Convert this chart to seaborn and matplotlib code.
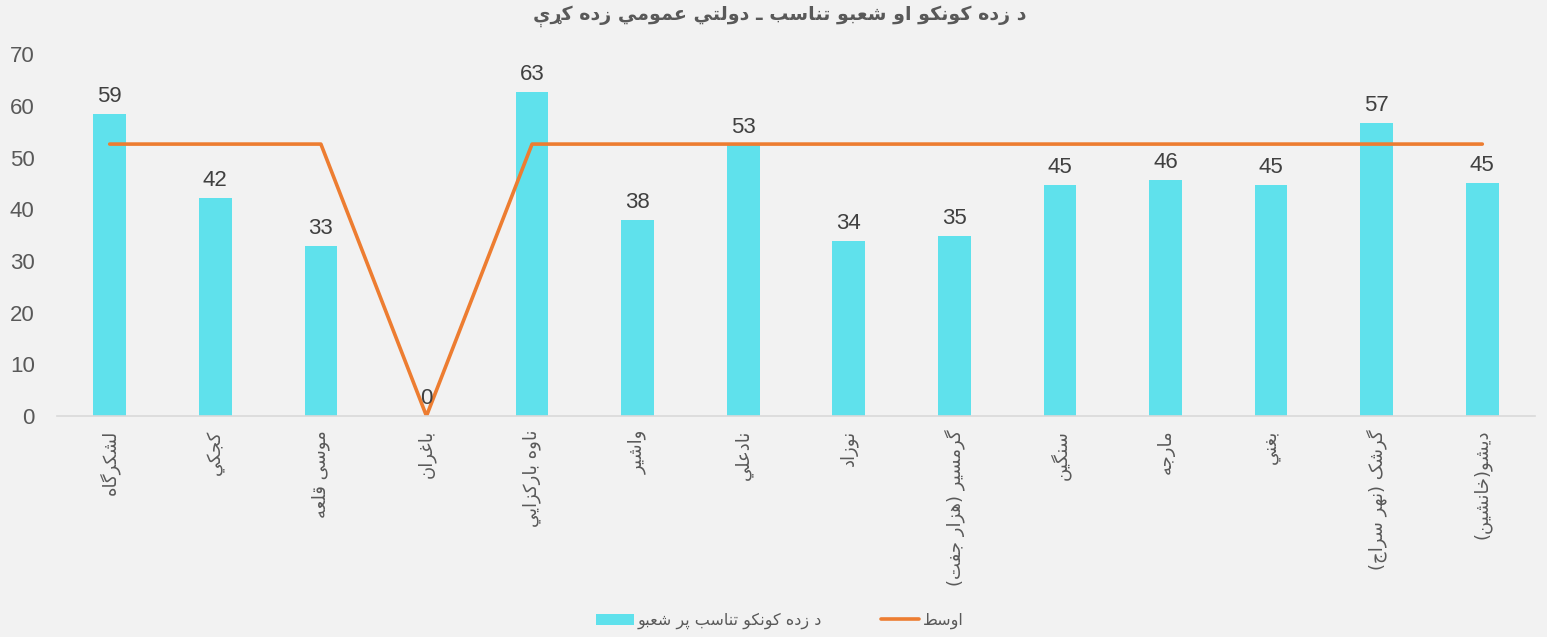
import numpy as np
import matplotlib
matplotlib.use("Agg")
import matplotlib.pyplot as plt
import seaborn as sns

# Chart data
title = "د زده کونکو او شعبو تناسب ـ دولتي عمومي زده کړې"
districts = [
    "لشکرگاه", "کجکي", "موسی قلعه", "باغران", "ناوه بارکزایي", "واشیر", "نادعلي",
    "نوزاد", "گرمسیر (هزار جفت)", "سنگین", "مارجه", "بغني", "گرشک (نهر سراج)", "دیشو(خانشین)",
]
ratio = [58.5, 42.1, 32.9, 0, 62.6, 37.9, 52.5, 33.9, 34.8, 44.7, 45.7, 44.6, 56.7, 45.0]
average = [52.6, 52.6, 52.6, 0, 52.6, 52.6, 52.6, 52.6, 52.6, 52.6, 52.6, 52.6, 52.6, 52.6]
bar_name = "د زده کونکو تناسب پر شعبو"
line_name = "اوسط"

# matplotlib has no Arabic shaping, so pick the contextual glyphs by hand
# (isolated, final, initial, medial); right-joining letters have no initial/medial.
FORMS = {
    "ا": ("\uFE8D", "\uFE8E", None, None),
    "ب": ("\uFE8F", "\uFE90", "\uFE91", "\uFE92"),
    "پ": ("\uFB56", "\uFB57", "\uFB58", "\uFB59"),
    "ت": ("\uFE95", "\uFE96", "\uFE97", "\uFE98"),
    "ج": ("\uFE9D", "\uFE9E", "\uFE9F", "\uFEA0"),
    "خ": ("\uFEA5", "\uFEA6", "\uFEA7", "\uFEA8"),
    "د": ("\uFEA9", "\uFEAA", None, None),
    "ر": ("\uFEAD", "\uFEAE", None, None),
    "ړ": ("\u0693", "\u0693", None, None),
    "ز": ("\uFEAF", "\uFEB0", None, None),
    "س": ("\uFEB1", "\uFEB2", "\uFEB3", "\uFEB4"),
    "ش": ("\uFEB5", "\uFEB6", "\uFEB7", "\uFEB8"),
    "ط": ("\uFEC1", "\uFEC2", "\uFEC3", "\uFEC4"),
    "ع": ("\uFEC9", "\uFECA", "\uFECB", "\uFECC"),
    "غ": ("\uFECD", "\uFECE", "\uFECF", "\uFED0"),
    "ف": ("\uFED1", "\uFED2", "\uFED3", "\uFED4"),
    "ق": ("\uFED5", "\uFED6", "\uFED7", "\uFED8"),
    "ک": ("\uFB8E", "\uFB8F", "\uFB90", "\uFB91"),
    "گ": ("\uFB92", "\uFB93", "\uFB94", "\uFB95"),
    "ل": ("\uFEDD", "\uFEDE", "\uFEDF", "\uFEE0"),
    "م": ("\uFEE1", "\uFEE2", "\uFEE3", "\uFEE4"),
    "ن": ("\uFEE5", "\uFEE6", "\uFEE7", "\uFEE8"),
    "ه": ("\uFEE9", "\uFEEA", "\uFEEB", "\uFEEC"),
    "و": ("\uFEED", "\uFEEE", None, None),
    "ي": ("\uFEF1", "\uFEF2", "\uFEF3", "\uFEF4"),
    "ی": ("\uFBFC", "\uFBFD", "\uFBFE", "\uFBFF"),
    "ې": ("\uFBE4", "\uFBE5", "\uFBE6", "\uFBE7"),
}


def shape(text):
    out = []
    for i, ch in enumerate(text):
        f = FORMS.get(ch)
        if f is None:
            out.append(ch)
            continue
        prev = text[i - 1] if i > 0 else ""
        nxt = text[i + 1] if i + 1 < len(text) else ""
        joined_before = prev in FORMS and FORMS[prev][2] is not None
        joined_after = f[2] is not None and nxt in FORMS
        if joined_before and joined_after:
            out.append(f[3])
        elif joined_before:
            out.append(f[1])
        elif joined_after:
            out.append(f[2])
        else:
            out.append(f[0])
    # right-to-left: reverse into visual order, mirror brackets
    mirror = {"(": ")", ")": "("}
    return "".join(mirror.get(c, c) for c in reversed(out))


sns.set_theme(style="white")
plt.rcParams["font.family"] = ["Liberation Sans", "DejaVu Sans"]
arabic = ["DejaVu Sans"]
grey = "#595959"
bg = "#f2f2f2"

fig = plt.figure(figsize=(15.47, 6.37), dpi=100, facecolor=bg)
ax = fig.add_axes([0.0368, 0.347, 0.9555, 0.568], facecolor=bg)

x = np.arange(len(districts))
sns.barplot(x=x, y=ratio, color="#5fe1ec", saturation=1, width=0.31,
            linewidth=0, label=shape(bar_name), ax=ax)
sns.lineplot(x=x, y=average, color="#ed7d31", linewidth=2.6,
             label=shape(line_name), ax=ax, legend=False)
if ax.get_legend() is not None:
    ax.get_legend().remove()

labels = [str(int(v + 0.5)) for v in ratio]
ax.bar_label(ax.containers[0], labels=labels, padding=5, fontsize=16, color="#404040")

ax.set_xlim(-0.5, len(districts) - 0.5)
ax.set_ylim(0, 70)
ax.set_yticks(range(0, 71, 10))
ax.tick_params(axis="y", length=0, pad=16, labelsize=16, labelcolor=grey)
ax.tick_params(axis="x", length=0, pad=10)
ax.set_xticks(x)
ax.set_xticklabels([shape(d) for d in districts], rotation=90, fontsize=13,
                   color=grey, family=arabic, va="top", ha="center")
ax.set_xlabel("")
ax.set_ylabel("")
for side in ["top", "right", "left"]:
    ax.spines[side].set_visible(False)
ax.spines["bottom"].set_color("#d9d9d9")
ax.spines["bottom"].set_linewidth(1.2)

fig.text(0.504, 0.975, shape(title), ha="center", va="center", fontsize=13.7,
         fontweight="bold", color=grey, family=arabic)

# bar entry first, then the average line
handles, names = ax.get_legend_handles_labels()
order = [names.index(shape(bar_name)), names.index(shape(line_name))]
fig.legend([handles[i] for i in order], [names[i] for i in order],
           loc="center", bbox_to_anchor=(0.504, 0.025), ncol=2,
           frameon=False, prop={"family": arabic, "size": 11.5},
           labelcolor=grey, handlelength=2.4, handletextpad=0.2, columnspacing=3.7)

fig.savefig("out.png", dpi=100, facecolor=bg)
